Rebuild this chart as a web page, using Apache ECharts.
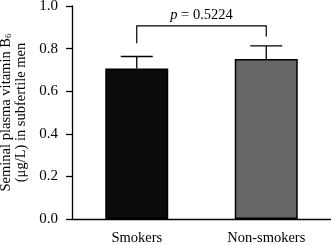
<!DOCTYPE html>
<html><head><meta charset="utf-8">
<script src="https://cdn.jsdelivr.net/npm/echarts@6/dist/echarts.min.js"></script>
<style>html,body{margin:0;padding:0;background:#fff}#c{width:331px;height:245px}</style>
</head><body><div id="c"></div>
<script>
var categories = ['Smokers', 'Non-smokers'];
var means = [0.707, 0.751];
var upperErr = [0.763, 0.813];
var barColors = ['#0b0b0b', '#666666'];
var bracketLegs = [0.825, 0.857];
var bracketTop = 0.907;
var pValueText = '0.5224';
var yTicks = [0, 0.2, 0.4, 0.6, 0.8, 1.0];

var font = 'Liberation Serif';
var chart = echarts.init(document.getElementById('c'), null, {renderer: 'canvas'});
chart.setOption({
  animation: false,
  backgroundColor: '#fff',
  grid: {left: 72, right: 0, top: 6, bottom: 26, containLabel: false, outerBoundsMode: 'none'},
  xAxis: {
    type: 'category', data: categories,
    axisLine: {lineStyle: {color: '#000', width: 1.3}},
    axisTick: {alignWithLabel: true, length: 6, lineStyle: {color: '#000', width: 1.3}},
    axisLabel: {color: '#000', fontFamily: font, fontSize: 14.5, margin: 12}
  },
  yAxis: {
    type: 'value', min: yTicks[0], max: yTicks[yTicks.length - 1], interval: 0.2,
    splitLine: {show: false},
    axisLine: {show: true, lineStyle: {color: '#000', width: 1.3}},
    axisTick: {show: true, length: 6, lineStyle: {color: '#000', width: 1.3}},
    axisLabel: {color: '#000', fontFamily: font, fontSize: 15, margin: 14,
      formatter: function (v) { return v.toFixed(1); }},
    name: 'Seminal plasma vitamin B{sub|6}\n(μg/L) in subfertile men',
    nameLocation: 'middle', nameGap: 42,
    nameTextStyle: {color: '#000', fontFamily: font, fontSize: 14.5, lineHeight: 15,
      rich: {sub: {fontFamily: font, fontSize: 9, verticalAlign: 'bottom', padding: [6, 0, 0, 0], color: '#000'}}}
  },
  series: [
    {
      type: 'bar', barWidth: 63,
      data: means.map(function (v, i) {
        return {value: v, itemStyle: {color: barColors[i], borderColor: '#000', borderWidth: 1.5}};
      }),
      z: 2
    },
    {
      type: 'custom', z: 3,
      data: categories.map(function (c, i) { return [i, means[i], upperErr[i]]; }),
      renderItem: function (params, api) {
        var x = api.value(0);
        var top = api.coord([x, api.value(2)]);
        var base = api.coord([x, api.value(1)]);
        var hw = 16;
        return {type: 'group', children: [
          {type: 'line', shape: {x1: top[0], y1: top[1], x2: base[0], y2: base[1]}, style: {stroke: '#000', lineWidth: 1.3}},
          {type: 'line', shape: {x1: top[0] - hw, y1: top[1], x2: top[0] + hw, y2: top[1]}, style: {stroke: '#000', lineWidth: 1.3}}
        ]};
      }
    },
    {
      type: 'custom', z: 3,
      data: [[0, 1, bracketLegs[0], bracketLegs[1], bracketTop]],
      renderItem: function (params, api) {
        var a = api.coord([api.value(0), api.value(2)]);
        var b = api.coord([api.value(0), api.value(4)]);
        var c = api.coord([api.value(1), api.value(4)]);
        var d = api.coord([api.value(1), api.value(3)]);
        return {type: 'group', children: [
          {type: 'polyline', shape: {points: [a, b, c, d]}, style: {stroke: '#000', lineWidth: 1.2, fill: null}},
          {type: 'text', x: (b[0] + c[0]) / 2, y: b[1] - 3,
            style: {text: '{i|p} = ' + pValueText, align: 'center', verticalAlign: 'bottom',
              fontFamily: font, fontSize: 14.5, fill: '#000',
              rich: {i: {fontStyle: 'italic', fontFamily: font, fontSize: 14.5}}}}
        ]};
      }
    }
  ]
});
</script></body></html>
